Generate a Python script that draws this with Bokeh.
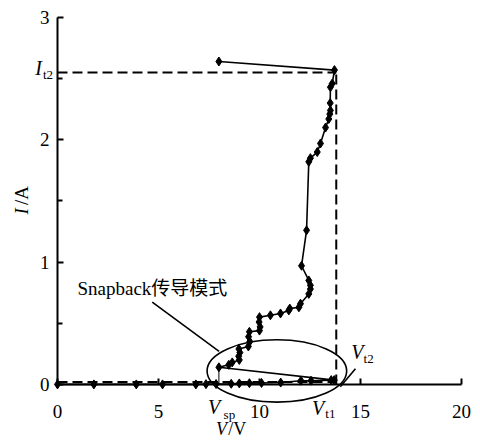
from bokeh.plotting import figure
from bokeh.models import Range1d, FixedTicker, Label
from bokeh.embed import file_html
from bokeh.resources import INLINE

# ---- data ----
# measured I-V curve: low-current branch up to Vt1, snapback to Vsp, then rising branch
v_data = [0, 1.8, 3.9, 5.2, 6.85, 7.35, 7.85, 8.6, 9.0, 9.5, 10.1, 11.05, 12.05, 12.55, 13.55, 13.7,
          7.99, 8.48, 8.65, 9.0, 8.97, 9.03, 8.98, 9.45, 9.52, 9.46, 9.5,
          10.0, 10.03, 9.98, 10.0, 10.54, 11.04, 11.45, 11.5, 11.95, 12.03,
          12.44, 12.52, 12.52, 12.44, 12.08, 12.33, 12.44, 12.52, 12.86, 13.02,
          13.27, 13.43, 13.48, 13.51, 13.5, 13.51, 13.6, 13.71, 7.99]
i_data = [0, 0, 0, 0, 0, 0.002, 0.003, 0.005, 0.008, 0.01, 0.012, 0.015, 0.03, 0.03, 0.035, 0.035,
          0.14, 0.16, 0.18, 0.20, 0.23, 0.26, 0.29, 0.31, 0.35, 0.39, 0.43,
          0.44, 0.47, 0.51, 0.55, 0.565, 0.58, 0.605, 0.62, 0.63, 0.66,
          0.74, 0.78, 0.81, 0.85, 0.97, 1.26, 1.82, 1.85, 1.90, 1.97,
          2.10, 2.17, 2.21, 2.24, 2.30, 2.43, 2.46, 2.57, 2.64]

# reference levels
vt1_level = 13.8      # vertical dashed line
it2_level = 2.55      # upper dashed line
i_low_level = 0.02    # lower dashed line
vsp_value = 7.99
vsp_current = 0.14

# snapback-region ellipse
ell_x = [10.86]
ell_y = [0.11]
ell_w = [6.91]
ell_h = [0.51]

# annotation leader lines
snap_lead_v = [4.69, 8.0]
snap_lead_i = [0.673, 0.27]
vt2_lead_v = [14.75, 14.0]
vt2_lead_i = [0.128, -0.02]

x_ticks = [0, 5, 10, 15, 20]
y_ticks = [0, 1, 2, 3]
y_minor = [0.5, 1.5, 2.5]

SERIF = "Liberation Serif"
CJK = "Liberation Serif, Noto Sans CJK SC"

p = figure(width=480, height=442,
           x_range=Range1d(-2.8218, 20.9406), y_range=Range1d(-0.4751, 3.139),
           output_backend="svg", toolbar_location=None, min_border=0)
p.outline_line_color = None
p.grid.visible = False
p.background_fill_color = "white"

# axes through the origin
p.xaxis.fixed_location = 0
p.yaxis.fixed_location = 0
p.xaxis.bounds = (0, 20)
p.yaxis.bounds = (0, 3)
p.xaxis.ticker = FixedTicker(ticks=x_ticks)
p.yaxis.ticker = FixedTicker(ticks=y_ticks, minor_ticks=y_minor)
for ax in (p.xaxis, p.yaxis):
    ax.axis_line_color = "black"
    ax.axis_line_width = 2
    ax.major_tick_in = 6
    ax.major_tick_out = 0
    ax.major_tick_line_width = 2
    ax.major_tick_line_color = "black"
    ax.minor_tick_in = 5
    ax.minor_tick_out = 0
    ax.minor_tick_line_width = 2
    ax.minor_tick_line_color = "black"
    ax.major_label_text_font = SERIF
    ax.major_label_text_font_size = "19px"
    ax.major_label_text_color = "black"
p.xaxis.major_label_standoff = 21
p.yaxis.major_label_standoff = 8

# dashed reference lines
p.line([0, vt1_level], [it2_level, it2_level], line_color="black", line_width=2, line_dash="10 5")
p.line([vt1_level, vt1_level], [0, it2_level], line_color="black", line_width=2, line_dash="10 5")
p.line([0, vt1_level], [i_low_level, i_low_level], line_color="black", line_width=2, line_dash="10 5")

# Vsp drop line
p.line([vsp_value, vsp_value], [0, vsp_current], line_color="black", line_width=1)

# data curve
p.line(v_data, i_data, line_color="black", line_width=1.6)
p.scatter(v_data, i_data, marker="diamond", size=9, color="black")

# ellipse + leaders
p.ellipse(x=ell_x, y=ell_y, width=ell_w, height=ell_h, fill_color=None,
          line_color="black", line_width=1.6)
p.line(snap_lead_v, snap_lead_i, line_color="black", line_width=1.6)
p.line(vt2_lead_v, vt2_lead_i, line_color="black", line_width=1.6)


def lab(x, y, text, size="19px", italic=False, angle=0, font=SERIF):
    p.add_layout(Label(x=x, y=y, text=text, text_font=font, text_font_size=size,
                       text_font_style="italic" if italic else "normal",
                       text_align="center", text_baseline="middle",
                       text_color="black", angle=angle))


lab(4.70, 0.785, "Snapback传导模式", font=CJK)
# axis titles
lab(-1.76, 1.415, "I", italic=True, angle=1.5708)
lab(-1.76, 1.545, "/A", angle=1.5708)
lab(8.12, -0.365, "V", italic=True, size="18px")
lab(8.90, -0.365, "/V", size="18px")
# I_t2
lab(-0.94, 2.59, "I", italic=True, size="20px")
lab(-0.47, 2.535, "t2", size="13px")
# V_sp
lab(7.75, -0.188, "V", italic=True, size="20px")
lab(8.51, -0.245, "sp", size="13px")
# V_t1
lab(12.90, -0.192, "V", italic=True, size="20px")
lab(13.51, -0.237, "t1", size="13px")
# V_t2
lab(14.85, 0.262, "V", italic=True, size="20px")
lab(15.40, 0.213, "t2", size="13px")

open("out.html", "w").write(file_html(p, INLINE))
